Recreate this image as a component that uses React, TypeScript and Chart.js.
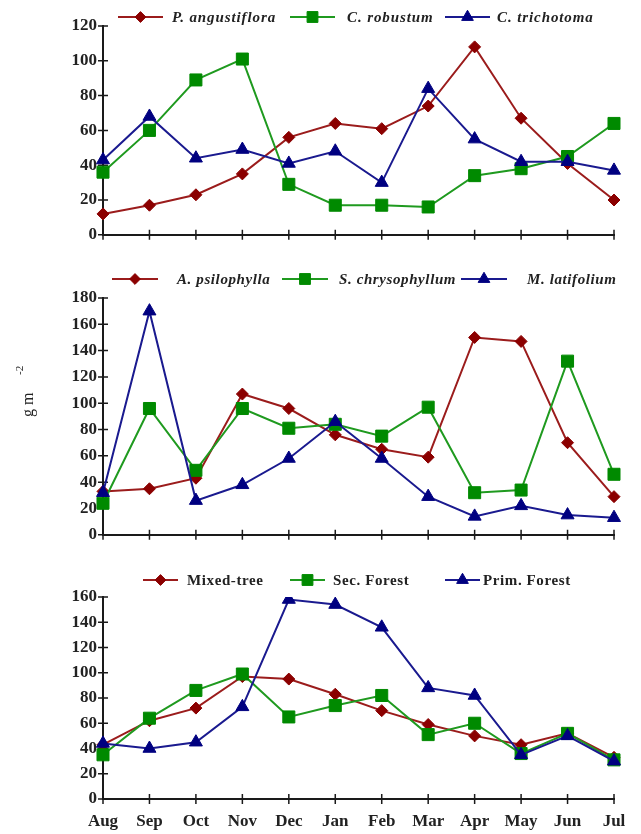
import React, { useEffect, useRef } from "react";
import { Chart, registerables } from "chart.js";
import { drawPoint } from "chart.js/helpers";

Chart.register(...registerables);

// ---------- data ----------
const months = ["Aug", "Sep", "Oct", "Nov", "Dec", "Jan", "Feb", "Mar", "Apr", "May", "Jun", "Jul"];

const labels1 = ["P. angustiflora", "C. robustum", "C. trichotoma"];
const pAngustiflora = [12, 17, 23, 35, 56, 64, 61, 74, 108, 67, 41, 20];
const cRobustum = [36, 60, 89, 101, 29, 17, 17, 16, 34, 38, 45, 64];
const cTrichotoma = [43, 68, 44, 49, 41, 48, 30, 84, 55, 42, 42, 37];

const labels2 = ["A. psilophylla", "S. chrysophyllum", "M. latifolium"];
const aPsilophylla = [33, 35, 43, 107, 96, 76, 65, 59, 150, 147, 70, 29];
const sChrysophyllum = [24, 96, 49, 96, 81, 84, 75, 97, 32, 34, 132, 46];
const mLatifolium = [32, 170, 26, 38, 58, 86, 58, 29, 14, 22, 15, 13];

const labels3 = ["Mixed-tree", "Sec. Forest", "Prim. Forest"];
const mixedTree = [43, 62, 72, 97, 95, 83, 70, 59, 50, 43, 52, 33];
const secForest = [35, 64, 86, 99, 65, 74, 82, 51, 60, 36, 52, 31];
const primForest = [44, 40, 45, 73, 158, 154, 136, 88, 82, 35, 50, 30];

const yMax1 = 120;
const yMax2 = 180;
const yMax3 = 160;
const yStep = 20;
const yUnitMain = "g m";
const yUnitSup = "-2";

// ---------- styles ----------
const SERIF = "'Liberation Serif', 'Times New Roman', serif";
const AXIS = "#1a1a1a";
const TEXT = "#222222";
const styles = [
  { line: "#9b1c1c", mark: "#8b0000", pointStyle: "rectRot", radius: 6 },
  { line: "#1f9a1f", mark: "#008a00", pointStyle: "rect", radius: 8.5 },
  { line: "#1a1a8f", mark: "#000080", pointStyle: "triangle", radius: 7.5 },
];

// ---------- plugins ----------
const crossTicks = {
  id: "crossTicks",
  beforeDatasetsDraw(chart: any) {
    const { ctx, chartArea } = chart;
    const xs = chart.scales.x;
    const ys = chart.scales.y;
    ctx.save();
    ctx.strokeStyle = AXIS;
    ctx.lineWidth = 1.5;
    ctx.beginPath();
    xs.ticks.forEach((_: any, i: number) => {
      const p = xs.getPixelForTick(i);
      ctx.moveTo(p, chartArea.bottom - 5);
      ctx.lineTo(p, chartArea.bottom + 5);
    });
    ys.ticks.forEach((_: any, i: number) => {
      const p = ys.getPixelForTick(i);
      ctx.moveTo(chartArea.left - 5, p);
      ctx.lineTo(chartArea.left + 5, p);
    });
    ctx.stroke();
    ctx.restore();
  },
};

const lineLegend = {
  id: "lineLegend",
  afterDraw(chart: any, _args: any, opts: any) {
    const ctx = chart.ctx;
    chart.data.datasets.forEach((ds: any, i: number) => {
      const sx = opts.sampleX[i];
      const tx = opts.textX[i];
      const y = opts.y;
      ctx.save();
      ctx.strokeStyle = ds.borderColor;
      ctx.lineWidth = 2;
      ctx.beginPath();
      ctx.moveTo(sx, y);
      ctx.lineTo(sx + opts.sampleW, y);
      ctx.stroke();
      ctx.fillStyle = ds.pointBackgroundColor;
      ctx.strokeStyle = ds.pointBorderColor;
      ctx.lineWidth = 1;
      drawPoint(
        ctx,
        { pointStyle: ds.pointStyle, radius: ds.pointRadius * 0.9, rotation: 0, borderWidth: 1 } as any,
        sx + opts.sampleW / 2,
        y
      );
      ctx.font = opts.font;
      (ctx as any).letterSpacing = opts.letterSpacing;
      ctx.fillStyle = TEXT;
      ctx.textBaseline = "middle";
      ctx.textAlign = "left";
      ctx.fillText(ds.label, tx, y + 1);
      ctx.restore();
    });
  },
};

const yUnit = {
  id: "yUnit",
  afterDraw(chart: any, _args: any, opts: any) {
    if (!opts || !opts.show) return;
    const ctx = chart.ctx;
    ctx.save();
    ctx.translate(opts.x, opts.y);
    ctx.rotate(-Math.PI / 2);
    ctx.fillStyle = TEXT;
    ctx.textBaseline = "alphabetic";
    ctx.textAlign = "left";
    ctx.font = `16px ${SERIF}`;
    ctx.fillText(yUnitMain, 0, 0);
    ctx.font = `11px ${SERIF}`;
    ctx.fillText(yUnitSup, opts.supU, -opts.supV);
    ctx.restore();
  },
};

// ---------- panel ----------
type PanelProps = {
  top: number;
  height: number;
  padTop: number;
  xHeight: number;
  yMax: number;
  names: string[];
  series: number[][];
  showX: boolean;
  legend: any;
  unit?: any;
};

function Panel(p: PanelProps) {
  const ref = useRef<HTMLCanvasElement | null>(null);
  useEffect(() => {
    if (!ref.current) return;
    const datasets = p.series.map((vals, i) => ({
      label: p.names[i],
      data: vals,
      borderColor: styles[i].line,
      backgroundColor: styles[i].mark,
      pointBackgroundColor: styles[i].mark,
      pointBorderColor: styles[i].mark,
      pointBorderWidth: 1,
      pointStyle: styles[i].pointStyle,
      pointRadius: styles[i].radius,
      borderWidth: 2,
      tension: 0,
      fill: false,
      order: 3 - i,
    }));
    const chart = new Chart(ref.current, {
      type: "line",
      data: { labels: months, datasets },
      plugins: [crossTicks, lineLegend, yUnit],
      options: {
        responsive: false,
        animation: false,
        layout: { padding: { top: p.padTop, right: 27, left: 0, bottom: 0 } },
        plugins: {
          legend: { display: false },
          tooltip: { enabled: false },
          lineLegend: p.legend,
          yUnit: p.unit || { show: false },
        } as any,
        scales: {
          x: {
            type: "category",
            offset: false,
            grid: { display: false, drawTicks: false },
            border: { display: true, color: AXIS, width: 2 },
            ticks: {
              display: p.showX,
              color: TEXT,
              font: { family: SERIF, size: 17, weight: "bold" },
              padding: 12,
              maxRotation: 0,
              autoSkip: false,
            },
            afterFit: (s: any) => {
              s.height = p.xHeight;
            },
          },
          y: {
            min: 0,
            max: p.yMax,
            grid: { display: false, drawTicks: false },
            border: { display: true, color: AXIS, width: 2 },
            ticks: {
              stepSize: yStep,
              color: TEXT,
              font: { family: SERIF, size: 17, weight: "bold" },
              padding: 6,
            },
            afterFit: (s: any) => {
              s.width = 103;
            },
          },
        } as any,
      },
    } as any);
    return () => chart.destroy();
  }, []);
  return (
    <canvas
      ref={ref}
      width={641}
      height={p.height}
      style={{ position: "absolute", left: 0, top: p.top, width: 641, height: p.height }}
    />
  );
}

export default function App() {
  const italicFont = `italic bold 15px ${SERIF}`;
  const boldFont = `bold 15px ${SERIF}`;
  return (
    <div style={{ position: "absolute", left: 0, top: 0, width: 641, height: 834, background: "#fff" }}>
      <Panel
        top={0}
        height={251}
        padTop={26}
        xHeight={12}
        yMax={yMax1}
        names={labels1}
        series={[pAngustiflora, cRobustum, cTrichotoma]}
        showX={false}
        legend={{ y: 17, sampleX: [118, 290, 445], textX: [172, 347, 497], sampleW: 45, font: italicFont, letterSpacing: "0.9px" }}
      />
      <Panel
        top={251}
        height={300}
        padTop={47}
        xHeight={12}
        yMax={yMax2}
        names={labels2}
        series={[aPsilophylla, sChrysophyllum, mLatifolium]}
        showX={false}
        legend={{ y: 28, sampleX: [112, 282, 461], textX: [177, 339, 527], sampleW: 46, font: italicFont, letterSpacing: "0.6px" }}
        unit={{ show: true, x: 33, y: 166, supU: 42, supV: 10 }}
      />
      <Panel
        top={551}
        height={283}
        padTop={46}
        xHeight={35}
        yMax={yMax3}
        names={labels3}
        series={[mixedTree, secForest, primForest]}
        showX={true}
        legend={{ y: 29, sampleX: [143, 290, 445], textX: [187, 333, 483], sampleW: 35, font: boldFont, letterSpacing: "0.6px" }}
      />
    </div>
  );
}
